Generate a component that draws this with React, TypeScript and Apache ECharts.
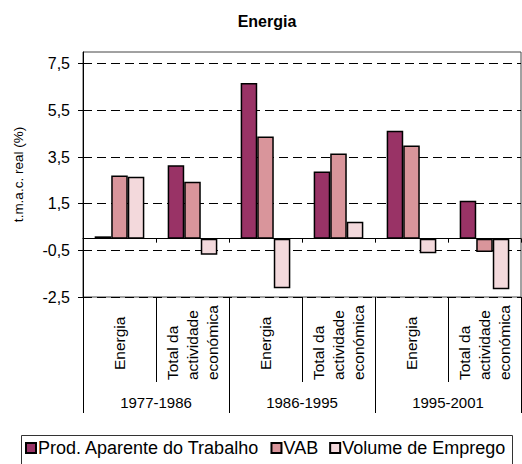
import React, { useEffect, useRef } from 'react';
import * as echarts from 'echarts';

const categories = [
  'Energia',
  'Total da\nactividade\neconómica',
  'Energia',
  'Total da\nactividade\neconómica',
  'Energia',
  'Total da\nactividade\neconómica',
];
const periods = ['1977-1986', '1986-1995', '1995-2001'];
const seriesNames = ['Prod. Aparente do Trabalho', 'VAB', 'Volume de Emprego'];
const prodValues = [0.1, 3.15, 6.67, 2.88, 4.63, 1.62];
const vabValues = [2.71, 2.44, 4.38, 3.65, 3.99, -0.57];
const empregoValues = [2.65, -0.69, -2.13, 0.72, -0.62, -2.17];
const yTicks = [-2.5, -0.5, 1.5, 3.5, 5.5, 7.5];
const titleText = 'Energia';
const yAxisName = 't.m.a.c. real (%)';

const colors = ['#993366', '#D9959B', '#F3D9DC'];
const font = "'Liberation Sans', Arial, sans-serif";

export default function App() {
  const ref = useRef<HTMLDivElement>(null);
  useEffect(() => {
    if (!ref.current) return;
    const chart = echarts.init(ref.current, null, { renderer: 'svg' });
    const values = [prodValues, vabValues, empregoValues];
    chart.setOption({
      animation: false,
      backgroundColor: '#ffffff',
      textStyle: { fontFamily: font, color: '#000' },
      grid: {
        left: 83,
        right: 1,
        top: 52,
        bottom: 167,
        show: true,
        borderColor: '#444',
        borderWidth: 1,
        containLabel: false,
        outerBoundsMode: 'none',
      },
      xAxis: [
        {
          type: 'category',
          data: categories,
          position: 'bottom',
          axisLine: { show: true, onZero: true, lineStyle: { color: '#000', width: 1 } },
          axisTick: { show: true, interval: 0, length: 4, lineStyle: { color: '#000' } },
          axisLabel: { show: false },
          splitLine: { show: false },
        },
        {
          type: 'category',
          data: categories,
          position: 'bottom',
          axisLine: { show: false, onZero: false },
          axisTick: { show: true, interval: 0, length: 85, lineStyle: { color: '#000' } },
          axisLabel: {
            show: true,
            interval: 0,
            rotate: 90,
            align: 'left',
            margin: 83,
            fontSize: 15.5,
            lineHeight: 20,
            color: '#000',
            fontFamily: font,
            formatter: (v: string) => (v === 'Energia' ? '{e|Energia}' : v),
            rich: { e: { padding: [0, 0, 0, 10], fontSize: 15.5, fontFamily: font, color: '#000' } },
          },
          splitLine: { show: false },
        },
        {
          type: 'category',
          data: periods,
          position: 'bottom',
          axisLine: { show: false, onZero: false },
          axisTick: { show: true, interval: 0, length: 116, lineStyle: { color: '#000' } },
          axisLabel: { show: true, interval: 0, margin: 98, fontSize: 15, color: '#000', fontFamily: font },
          splitLine: { show: false },
        },
      ],
      yAxis: {
        type: 'value',
        min: -2.5,
        max: 8,
        name: yAxisName,
        nameLocation: 'middle',
        nameGap: 58,
        nameTextStyle: { fontSize: 13.5, color: '#000', fontFamily: font },
        axisLine: { show: true, lineStyle: { color: '#000' } },
        axisTick: { show: true, length: 5, customValues: yTicks, lineStyle: { color: '#000' } },
        axisLabel: {
          customValues: yTicks,
          formatter: (v: number) => String(v).replace('.', ','),
          fontSize: 16,
          color: '#000',
          margin: 13,
          fontFamily: font,
        },
        splitLine: { show: true, lineStyle: { color: '#000', type: [9, 5], width: 1 } },
      },
      legend: {
        data: seriesNames,
        left: 25,
        top: 439,
        padding: 0,
        itemWidth: 10,
        itemHeight: 10,
        itemGap: 11,
        icon: 'rect',
        textStyle: { fontSize: 18, color: '#000', fontFamily: font, padding: [0, 0, 0, -3] },
      },
      graphic: [
        {
          type: 'text',
          x: 267,
          y: 21,
          style: {
            text: titleText,
            fontSize: 16,
            fontWeight: 'bold',
            fontFamily: font,
            fill: '#000',
            align: 'center',
            verticalAlign: 'middle',
          },
        },
        {
          type: 'rect',
          shape: { x: 21.5, y: 435.5, width: 491, height: 40 },
          style: { fill: 'none', stroke: '#333', lineWidth: 1 },
        },
      ],
      series: seriesNames.map((name, i) => ({
        name,
        type: 'bar',
        xAxisIndex: 0,
        yAxisIndex: 0,
        data: values[i],
        barGap: '0%',
        barCategoryGap: '32%',
        itemStyle: { color: colors[i], borderColor: '#000', borderWidth: 1.5 },
      })),
    });
    return () => chart.dispose();
  }, []);
  return (
    <div
      ref={ref}
      style={{ position: 'fixed', left: 0, top: 0, width: 522, height: 464, background: '#fff' }}
    />
  );
}
